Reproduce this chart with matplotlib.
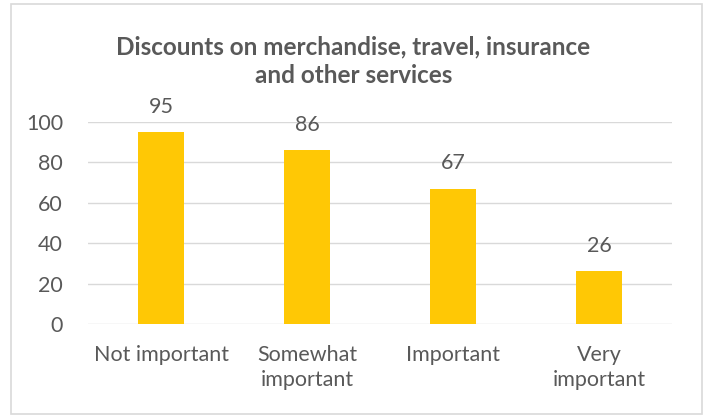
import matplotlib.pyplot as plt
from matplotlib.patches import Rectangle

categories = ["Not important", "Somewhat\nimportant", "Important", "Very\nimportant"]
values = [95, 86, 67, 26]
yticks = [0, 20, 40, 60, 80, 100]

plt.rcParams['font.family'] = ['Lato', 'DejaVu Sans']
text_color = '#595959'
bar_color = '#FFC805'
grid_color = '#D9D9D9'

fig = plt.figure(figsize=(7.07, 4.17), dpi=100)
ax = fig.add_axes([0.1245, 0.223, 0.826, 0.4844])

x = range(len(categories))
bars = ax.bar(x, values, width=0.315, color=bar_color, zorder=3)
for b, v in zip(bars, values):
    ax.annotate(str(v), (b.get_x() + b.get_width() / 2, v), xytext=(0, 11),
                textcoords='offset points', ha='center', va='bottom',
                fontsize=15.5, color=text_color)

ax.set_xlim(-0.5, len(categories) - 0.5)
ax.set_ylim(0, 100)
ax.set_yticks(yticks)
ax.set_xticks(list(x))
ax.set_xticklabels(categories, fontsize=15.5, color=text_color, linespacing=1.35)
ax.tick_params(axis='y', labelsize=15.5, labelcolor=text_color, length=0, pad=18)
ax.tick_params(axis='x', length=0, pad=15)
ax.grid(axis='y', color=grid_color, linewidth=1, zorder=0)
for s in ax.spines.values():
    s.set_visible(False)

fig.text(0.5, 0.853, "Discounts on merchandise, travel, insurance\nand other services",
         ha='center', va='center', fontsize=17.5, fontweight='bold', color=text_color,
         linespacing=1.32)

fig.patches.append(Rectangle((11 / 707, 3 / 417), 691 / 707, 410 / 417,
                             transform=fig.transFigure, fill=False,
                             edgecolor=grid_color, linewidth=1.2))

fig.savefig('out.png', dpi=100)
